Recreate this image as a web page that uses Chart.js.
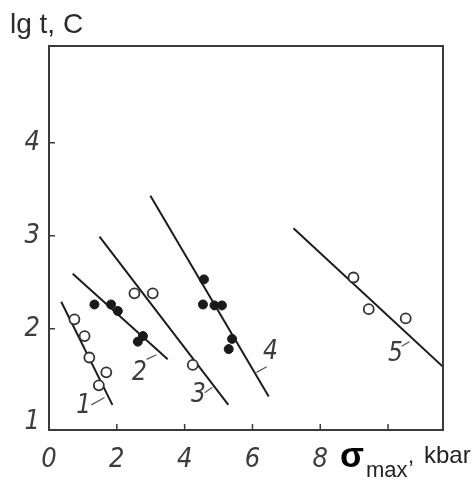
<!DOCTYPE html>
<html lang="ru">
<head>
    <meta charset="UTF-8">
    <title>lg t – σmax</title>
    <script src="https://cdn.jsdelivr.net/npm/chart.js"></script>
    <style>
        html, body { margin: 0; padding: 0; background: #fff; }
        #wrap { width: 476px; height: 483px; }
    </style>
</head>
<body>
    <div id="wrap"><canvas id="durabilityChart" width="476" height="483"></canvas></div>

<script>
// axis ticks
const xTicks = [0, 2, 4, 6, 8, 10];
const xTickLabels = ['0', '2', '4', '6', '8', ''];
const yTicks = [1, 2, 3, 4];
const xMarks = [2, 4, 6, 8, 10];
const yMarks = [2, 3, 4];

// fitted straight lines (start / end)
const line1 = [[0.36, 2.29], [1.87, 1.18]];
const line2 = [[0.70, 2.59], [3.50, 1.67]];
const line3 = [[1.49, 2.99], [5.29, 1.18]];
const line4 = [[2.99, 3.43], [6.48, 1.27]];
const line5 = [[7.21, 3.08], [11.62, 1.59]];

// measured points: open circles (1, 3, 5), filled (2, 4)
const points1 = [[0.75, 2.10], [1.05, 1.92], [1.19, 1.69], [1.69, 1.53], [1.47, 1.39]];
const points2 = [[1.34, 2.26], [1.83, 2.26], [2.03, 2.19], [2.77, 1.92], [2.62, 1.86]];
const points3 = [[2.52, 2.38], [3.06, 2.38], [4.24, 1.61]];
const points4 = [[4.57, 2.53], [4.54, 2.26], [4.88, 2.25], [5.10, 2.25], [5.40, 1.89], [5.30, 1.78]];
const points5 = [[8.98, 2.55], [9.43, 2.21], [10.52, 2.11]];

// curve numbers and their leader strokes
const curveNames = ['1', '2', '3', '4', '5'];
const curveNamePos = [[1.02, 1.17], [2.67, 1.52], [4.41, 1.28], [6.53, 1.75], [10.22, 1.72]];
const leaderFrom = [[1.25, 1.18], [2.88, 1.67], [4.59, 1.31], [6.12, 1.53], [10.40, 1.81]];
const leaderTo = [[1.64, 1.26], [3.17, 1.72], [4.82, 1.37], [6.42, 1.59], [10.63, 1.86]];

const toXY = arr => arr.map(p => ({ x: p[0], y: p[1] }));
const handFont = "'Liberation Sans Narrow', 'DejaVu Sans Condensed', sans-serif";

function lineSet(arr) {
    return {
        type: 'line',
        data: toXY(arr),
        borderColor: '#1c1c1c',
        borderWidth: 2,
        pointRadius: 0,
        fill: false,
        order: 2
    };
}

function openSet(arr) {
    return {
        type: 'scatter',
        data: toXY(arr),
        pointStyle: 'circle',
        pointRadius: 5,
        backgroundColor: '#ffffff',
        borderColor: '#333',
        borderWidth: 1.8,
        order: 1
    };
}

function filledSet(arr) {
    return {
        type: 'scatter',
        data: toXY(arr),
        pointStyle: 'circle',
        pointRadius: 4.5,
        backgroundColor: '#1a1a1a',
        borderColor: '#1a1a1a',
        borderWidth: 1,
        order: 1
    };
}

// frame, inward tick marks, curve numbers, axis captions
const decorations = {
    id: 'decorations',
    afterDraw(chart) {
        const ctx = chart.ctx;
        const a = chart.chartArea;
        const xs = chart.scales.x, ys = chart.scales.y;
        ctx.save();

        ctx.strokeStyle = '#3a3a3a';
        ctx.lineWidth = 2;
        ctx.strokeRect(a.left, a.top, a.right - a.left, a.bottom - a.top);

        ctx.lineWidth = 1.5;
        ctx.beginPath();
        xMarks.forEach(v => {
            const px = xs.getPixelForValue(v);
            ctx.moveTo(px, a.bottom);
            ctx.lineTo(px, a.bottom - 6);
        });
        yMarks.forEach(v => {
            const py = ys.getPixelForValue(v);
            ctx.moveTo(a.left, py);
            ctx.lineTo(a.left + 6, py);
        });
        ctx.stroke();

        ctx.fillStyle = '#3c3c3c';
        ctx.font = 'italic 26px ' + handFont;
        ctx.textAlign = 'center';
        ctx.textBaseline = 'middle';
        curveNames.forEach((name, i) => {
            ctx.fillText(name, xs.getPixelForValue(curveNamePos[i][0]), ys.getPixelForValue(curveNamePos[i][1]));
            ctx.beginPath();
            ctx.moveTo(xs.getPixelForValue(leaderFrom[i][0]), ys.getPixelForValue(leaderFrom[i][1]));
            ctx.lineTo(xs.getPixelForValue(leaderTo[i][0]), ys.getPixelForValue(leaderTo[i][1]));
            ctx.lineWidth = 1.2;
            ctx.strokeStyle = '#555';
            ctx.stroke();
        });

        // y caption
        ctx.textAlign = 'left';
        ctx.textBaseline = 'alphabetic';
        ctx.fillStyle = '#2a2a2a';
        ctx.font = '28px "Liberation Sans", Arial, sans-serif';
        ctx.fillText('lg t, C', 10, 33);

        // x caption
        ctx.fillStyle = '#000';
        ctx.font = 'bold 35px "Liberation Sans", Arial, sans-serif';
        ctx.fillText('\u03C3', 340, 467);
        ctx.fillStyle = '#222';
        ctx.font = '22px "Liberation Sans", Arial, sans-serif';
        ctx.fillText('max', 366, 477);
        ctx.fillText(',', 408, 463);
        ctx.font = '24px "Liberation Sans", Arial, sans-serif';
        ctx.fillText('kbar', 424, 463);

        ctx.restore();
    }
};

const ctx = document.getElementById('durabilityChart').getContext('2d');
new Chart(ctx, {
    type: 'scatter',
    data: {
        datasets: [
            lineSet(line1), lineSet(line2), lineSet(line3), lineSet(line4), lineSet(line5),
            openSet(points1), filledSet(points2), openSet(points3), filledSet(points4), openSet(points5)
        ]
    },
    options: {
        responsive: false,
        animation: false,
        layout: { padding: { top: 46, right: 33, left: 0, bottom: 0 } },
        plugins: {
            legend: { display: false },
            tooltip: { enabled: false }
        },
        scales: {
            x: {
                type: 'linear',
                min: 0,
                max: 11.62,
                afterBuildTicks: s => { s.ticks = xTicks.map(v => ({ value: v })); },
                afterFit: s => { s.height = 53; },
                grid: { display: false, drawTicks: false },
                border: { display: false },
                ticks: {
                    padding: 14,
                    color: '#3c3c3c',
                    font: { family: handFont, size: 27, style: 'italic' },
                    callback: v => xTickLabels[xTicks.indexOf(v)]
                }
            },
            y: {
                type: 'linear',
                min: 0.91,
                max: 5.04,
                afterBuildTicks: s => { s.ticks = yTicks.map(v => ({ value: v })); },
                afterFit: s => { s.width = 49; },
                grid: { display: false, drawTicks: false },
                border: { display: false },
                ticks: {
                    padding: 9,
                    color: '#3c3c3c',
                    font: { family: handFont, size: 27, style: 'italic' },
                    callback: v => String(v)
                }
            }
        }
    },
    plugins: [decorations]
});
</script>
</body>
</html>
